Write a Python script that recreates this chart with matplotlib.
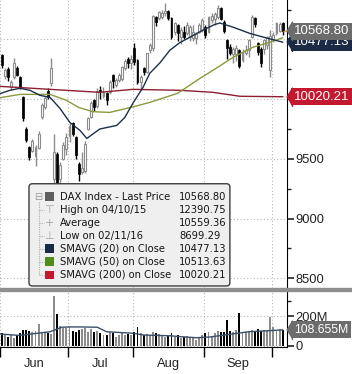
import numpy as np
import matplotlib
matplotlib.use("Agg")
import matplotlib.pyplot as plt
from matplotlib.patches import FancyBboxPatch, Rectangle
from matplotlib.transforms import blended_transform_factory

# DAX daily candles, trading days 1 Jun - 6 Oct 2016
opens = [10368, 10190, 10250, 10100, 10185, 10260, 10185, 10015, 9754, 9600, 9570,
         9520, 9595, 9850, 9935, 10070, 10133, 9330, 9540, 9330, 9500, 9580,
         9690, 9800, 9680, 9460, 9390, 9400, 9754, 9850, 9990, 9940, 10080,
         10030, 10049, 10057, 10200, 10120, 10160, 10170, 10260, 10340, 10300,
         10427, 10326, 10141, 10259, 10225, 10410, 10430, 10690, 10680, 10690, 10720,
         10740, 10679, 10561, 10620, 10519, 10561, 10553, 10520, 10511, 10511, 10560, 10578,
         10603, 10560, 10662, 10670, 10687, 10760, 10645, 10494, 10440, 10380, 10380,
         10410, 10330, 10390, 10410, 10519, 10680, 10470, 10420, 10420, 10452, 10242,
         10500, 10553, 10570, 10637]
highs = [10380, 10260, 10265, 10160, 10343, 10275, 10195, 10030, 9770, 9610, 9670,
         9615, 9730, 9965, 10030, 10090, 10343, 9710, 9560, 9470, 9640, 9720,
         9800, 9810, 9690, 9470, 9560, 9650, 9850, 9985, 10000, 10090, 10110,
         10100, 10060, 10160, 10210, 10180, 10215, 10280, 10340, 10350, 10370,
         10469, 10340, 10200, 10270, 10390, 10470, 10705, 10700, 10740, 10745, 10805,
         10750, 10690, 10650, 10630, 10600, 10610, 10650, 10620, 10620, 10560, 10640, 10680,
         10620, 10700, 10720, 10730, 10790, 10775, 10660, 10500, 10460, 10440, 10450,
         10420, 10420, 10450, 10500, 10705, 10690, 10480, 10440, 10500, 10530, 10575,
         10560, 10650, 10650, 10645]
lows = [10260, 10170, 10150, 10080, 10170, 10190, 10085, 9820, 9640, 9490, 9555,
        9443, 9580, 9830, 9920, 10000, 10110, 9226, 9214, 9300, 9490, 9530,
        9640, 9690, 9500, 9316, 9370, 9384, 9740, 9845, 9900, 9930, 10000,
        10010, 9950, 10040, 10090, 10100, 10140, 10150, 10240, 10260, 10250,
        10290, 10130, 10080, 10200, 10215, 10390, 10400, 10610, 10660, 10670, 10700,
        10660, 10500, 10540, 10490, 10460, 10500, 10540, 10490, 10490, 10460, 10550, 10560,
        10510, 10550, 10640, 10620, 10670, 10660, 10553, 10340, 10370, 10300, 10320,
        10260, 10310, 10370, 10350, 10510, 10600, 10370, 10270, 10380, 10420, 10183,
        10480, 10540, 10560, 10540]
closes = [10284, 10240, 10185, 10140, 10300, 10200, 10100, 9838, 9655, 9515, 9650,
          9600, 9710, 9947, 10010, 10020, 10258, 9557, 9268, 9447, 9612, 9680,
          9776, 9709, 9532, 9376, 9420, 9628, 9838, 9965, 9931, 10068, 10066,
          10064, 9990, 10143, 10150, 10160, 10200, 10267, 10320, 10300, 10337,
          10309, 10141, 10183, 10225, 10384, 10452, 10692, 10650, 10730, 10720, 10740,
          10680, 10519, 10637, 10553, 10580, 10519, 10620, 10600, 10561, 10545, 10620, 10662,
          10536, 10684, 10700, 10710, 10763, 10675, 10573, 10432, 10386, 10420, 10431,
          10276, 10390, 10410, 10494, 10687, 10627, 10394, 10300, 10494, 10519, 10530,
          10540, 10637, 10630, 10568.80]
# volume, millions
volumes = [84, 73, 62, 70, 55, 73, 84, 107, 107, 100, 95, 98, 147, 84, 95, 88, 80, 333, 213, 135, 122, 120,
           126, 100, 95, 105, 110, 120, 95, 110, 90, 100, 84, 73, 70, 95, 84, 62, 73, 84, 73, 80, 75,
           90, 127, 84, 73, 80, 75, 95, 84, 80, 73, 62, 70, 84, 62, 73, 55, 62, 66, 58, 62, 40, 51, 73,
           84, 95, 62, 84, 100, 90, 95, 173, 100, 95, 107, 220, 84, 90, 95, 107, 95, 110, 100, 107, 98, 193,
           128, 100, 110, 108.655]

# moving averages at a few points (day index, value)
sma20_day = [-0.5, 2.7, 6, 9.2, 12.4, 15.7, 18.9, 22.1, 25.4, 27.6, 31.8, 37.3, 39.9, 42.5,
             45.8, 48, 51.3, 54.5, 57.7, 61, 65.2, 69, 70.7, 74.9, 80.4, 85.9, 91]
sma20_val = [10046, 10074, 10091, 10074, 10032, 10015, 9923, 9805, 9738, 9671, 9750, 9780, 9847, 9965,
             10099, 10217, 10305, 10410, 10473, 10519, 10578, 10625, 10637, 10603, 10550, 10511, 10477.13]
sma50_day = [-0.5, 6, 15.7, 21, 25, 29.6, 35, 42.5, 48, 57, 64, 70, 75, 81.4, 87, 91]
sma50_val = [10012, 10040, 10040, 9990, 9930, 9895, 9889, 9935, 9973, 10049, 10170, 10267,
             10351, 10435, 10477, 10513.63]
sma200_day = [-0.5, 15.7, 31.8, 42.5, 57.7, 68.4, 77.2, 91]
sma200_val = [10107, 10082, 10057, 10082, 10074, 10057, 10024, 10020.21]
volma_day = [-0.5, 6, 12.4, 15.7, 19.5, 22, 25.4, 31, 34, 38, 42.5, 46, 54.5, 58, 63, 67.5, 74, 80, 91]
volma_val = [80, 70, 87, 95, 125, 127, 127, 125, 95, 90, 85, 73, 68, 62, 55, 60, 78, 95, 107]

month_edges = [-0.5, 21.5, 42.5, 65.5, 87.5]
month_mid = [10.5, 32, 54, 76.5]
month_names = ['Jun', 'Jul', 'Aug', 'Sep']

price_ticks = [8500, 9000, 9500, 10000, 10500]
# 10000 and 10500 sit behind the value tags, so their labels stay empty
price_tick_labels = ['8500', '9000', '9500', '', '']

legend_labels = ['DAX Index - Last Price', 'High on 04/10/15', 'Average', 'Low on 02/11/16',
                 'SMAVG (20) on Close', 'SMAVG (50) on Close', 'SMAVG (200) on Close']
legend_values = ['10568.80', '12390.75', '10559.36', '8699.29', '10477.13', '10513.63', '10020.21']

c_up = '#8c8c8c'
c_sma20 = '#1d2f4a'
c_sma50 = '#8a9a3c'
c_sma200 = '#8c1f30'
c_tag_gray = '#6c6c6c'
c_tag_navy = '#1b2b45'
c_tag_red = '#c3182f'
tick_font = dict(family='Liberation Sans', size=9.3)

o = np.array(opens, float)
h = np.array(highs, float)
l = np.array(lows, float)
c = np.array(closes, float)
v = np.array(volumes, float)
d = np.arange(len(c))
up = c >= o

W, H = 352, 374
fig = plt.figure(figsize=(W / 100, H / 100), dpi=100)
ax = fig.add_axes([0, 1 - 288 / H, 287 / W, 288 / H])
axv = fig.add_axes([0, 1 - 347 / H, 287 / W, 56 / H], sharex=ax)

# price panel
ax.vlines(d[up], l[up], h[up], color=c_up, lw=1, zorder=2)
ax.vlines(d[~up], l[~up], h[~up], color='black', lw=1, zorder=2)
ax.bar(d[up], (c - o)[up], bottom=o[up], width=0.62, color='white', edgecolor=c_up, lw=0.8, zorder=3)
ax.bar(d[~up], (o - c)[~up], bottom=c[~up], width=0.62, color='black', edgecolor='black', lw=0.5, zorder=3)
ax.plot(sma200_day, sma200_val, color=c_sma200, lw=1, zorder=4)
ax.plot(sma50_day, sma50_val, color=c_sma50, lw=1, zorder=4)
ax.plot(sma20_day, sma20_val, color=c_sma20, lw=1, zorder=4)
ax.hlines(c[-1], d[-1], 92.4, color='#e0a030', lw=1, zorder=4)

ax.set_xlim(-0.5, 92.4)
ax.set_ylim(8419, 10830)
ax.set_axisbelow(True)
ax.set_xticks(month_edges)
ax.tick_params(axis='x', which='both', length=0, labelbottom=False)
ax.yaxis.tick_right()
ax.set_yticks(price_ticks)
ax.set_yticklabels(price_tick_labels)
ax.set_yticks([8750, 9250, 9750, 10250, 10750], minor=True)
ax.tick_params(axis='y', which='major', direction='out', length=5, width=1.2, pad=1, colors='#222222')
ax.tick_params(axis='y', which='minor', direction='out', length=3, width=1, colors='#222222')
for t in ax.get_yticklabels():
    t.set_fontproperties(tick_font)
ax.grid(True, which='major', color='#b8b8b8', ls=(0, (1, 2)), lw=0.8)
for s in ['left', 'top', 'bottom']:
    ax.spines[s].set_visible(False)
ax.spines['right'].set_color('black')

# volume panel
axv.bar(d, v, width=0.62, color=np.where(up, c_up, 'black'), zorder=3)
axv.plot(volma_day, volma_val, color='#3b5068', lw=1, zorder=4)
axv.set_ylim(-7, 367)
axv.set_axisbelow(True)
axv.yaxis.tick_right()
axv.set_yticks([0, 200])
axv.set_yticklabels(['0', '200M'])
axv.set_yticks([100, 300], minor=True)
axv.tick_params(axis='y', which='major', direction='out', length=5, width=1.2, pad=1, colors='#222222')
axv.tick_params(axis='y', which='minor', direction='out', length=3, width=1, colors='#222222')
for t in axv.get_yticklabels():
    t.set_fontproperties(tick_font)
axv.set_xticks(month_edges)
axv.set_xticks(month_mid, minor=True)
axv.set_xticklabels(month_names, minor=True)
axv.tick_params(axis='x', which='major', direction='out', length=7, width=1, labelbottom=False)
axv.tick_params(axis='x', which='minor', length=0, pad=8, colors='#222222')
for t in axv.get_xticklabels(minor=True):
    t.set_fontproperties(tick_font)
axv.grid(True, which='major', color='#b8b8b8', ls=(0, (1, 2)), lw=0.8)
for s in ['left', 'top']:
    axv.spines[s].set_visible(False)

# separator between panels
fig.add_artist(Rectangle((0, 1 - 291 / H), 1, 3 / H, transform=fig.transFigure,
                         color='#8f8f8f', zorder=5))

# value tags on the right axis
tip = [(-0.6, 0), (0, 1), (0, -1)]


def tag(a, value, text, color, size=9.5):
    tr = blended_transform_factory(a.transAxes, a.transData)
    a.plot([1.019], [value], marker=tip, markersize=13.5, color=color,
           transform=tr, clip_on=False, zorder=10)
    a.text(1.024, value, text, transform=tr, ha='left', va='center', color='white',
           family='Liberation Sans', fontsize=size, clip_on=False, zorder=10,
           bbox=dict(boxstyle='square,pad=0.2', fc=color, ec='none'))


tag(ax, sma20_val[-1], '%.2f' % sma20_val[-1], c_tag_navy)
tag(ax, c[-1], '%.2f' % c[-1], c_tag_gray)
tag(ax, sma200_val[-1], '%.2f' % sma200_val[-1], c_tag_red)
tag(axv, v[-1], '%.3fM' % v[-1], c_tag_gray, size=8.8)

# legend box
ax.add_patch(FancyBboxPatch((0.101, 0.007), 0.70, 0.355, transform=ax.transAxes,
                            boxstyle='round,pad=0,rounding_size=0.012',
                            fc='#efefef', ec='#3c3c3c', lw=1, zorder=20, clip_on=False))
row_y = 0.317 - 0.0453 * np.arange(len(legend_labels))
ax.plot([0.136, 0.136], [row_y[0] - 0.02, row_y[-1]], transform=ax.transAxes,
        color='#b0b0b0', lw=0.8, ls=(0, (1, 1)), zorder=21)
for y in row_y[1:]:
    ax.plot([0.136, 0.152], [y, y], transform=ax.transAxes, color='#b0b0b0',
            lw=0.8, ls=(0, (1, 1)), zorder=21)
ax.text(0.134, row_y[0], '\u229f', transform=ax.transAxes, ha='center', va='center',
        fontsize=7, color='#9a9a9a', zorder=22)
icons = ['#5e5e5e', '\u22a4', '+', '\u22a5', '#1b2b45', '#4f8c1c', '#c3182f']
for y, icon, lab, val in zip(row_y, icons, legend_labels, legend_values):
    if icon.startswith('#'):
        ax.add_patch(Rectangle((0.156, y - 0.0155), 0.031, 0.031, transform=ax.transAxes,
                               fc=icon, ec='none', zorder=22))
    else:
        ax.text(0.172, y, icon, transform=ax.transAxes, ha='center', va='center',
                fontsize=8, color='#a6a6a6', zorder=22)
    ax.text(0.209, y, lab, transform=ax.transAxes, ha='left', va='center',
            fontsize=7.2, color='#151515', zorder=22)
    ax.text(0.624, y, val, transform=ax.transAxes, ha='left', va='center',
            fontsize=7.2, color='#151515', zorder=22)

fig.savefig('out.png', dpi=100)
